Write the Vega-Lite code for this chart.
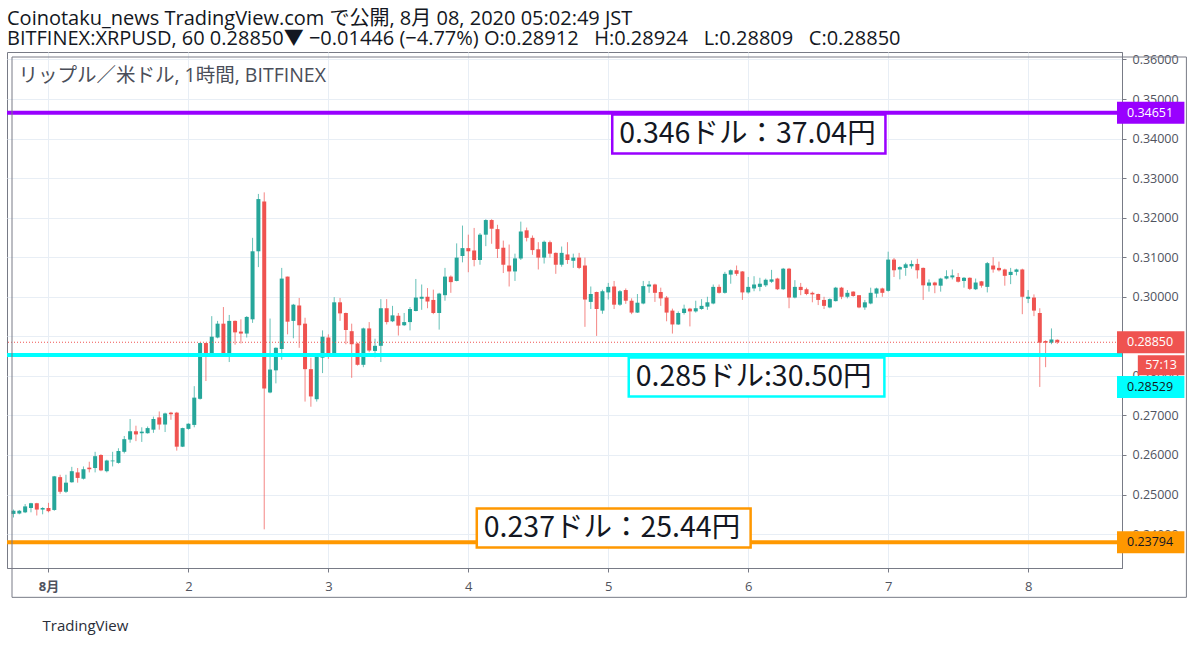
{
  "$schema": "https://vega.github.io/schema/vega-lite/v6.json",
  "width": 1115,
  "height": 516,
  "autosize": {"type": "none"},
  "padding": {"left": 7, "top": 52, "right": 78, "bottom": 79},
  "background": "white",
  "config": {
    "view": {"stroke": "#787b86", "strokeWidth": 1},
    "font": "Open Sans"
  },
  "title": {
    "text": "Coinotaku_news TradingView.com で公開, 8月 08, 2020 05:02:49 JST",
    "subtitle": "BITFINEX:XRPUSD, 60 0.28850▼ −0.01446 (−4.77%) O:0.28912\u00a0\u00a0 H:0.28924\u00a0\u00a0 L:0.28809\u00a0\u00a0 C:0.28850",
    "anchor": "start",
    "frame": "group",
    "font": "Open Sans, Noto Sans CJK JP",
    "subtitleFont": "Open Sans, Noto Sans CJK JP",
    "fontSize": 20,
    "subtitleFontSize": 20,
    "fontWeight": "normal",
    "color": "#131722",
    "subtitleColor": "#131722",
    "offset": 3,
    "subtitlePadding": 0
  },
  "datasets": {
    "candles": [
      {"t": -6, "o": 0.2451, "h": 0.2462, "l": 0.2442, "c": 0.2459},
      {"t": -5, "o": 0.2452, "h": 0.2461, "l": 0.2450, "c": 0.2459},
      {"t": -4, "o": 0.2455, "h": 0.2476, "l": 0.2453, "c": 0.2470},
      {"t": -3, "o": 0.2466, "h": 0.2479, "l": 0.2455, "c": 0.2478},
      {"t": -2, "o": 0.2478, "h": 0.2479, "l": 0.2447, "c": 0.2462},
      {"t": -1, "o": 0.2462, "h": 0.2468, "l": 0.2450, "c": 0.2466},
      {"t": 0, "o": 0.2466, "h": 0.2479, "l": 0.2455, "c": 0.2458},
      {"t": 1, "o": 0.2461, "h": 0.2547, "l": 0.2459, "c": 0.2546},
      {"t": 2, "o": 0.2544, "h": 0.2550, "l": 0.2502, "c": 0.2507},
      {"t": 3, "o": 0.2507, "h": 0.2550, "l": 0.2504, "c": 0.2530},
      {"t": 4, "o": 0.2531, "h": 0.2570, "l": 0.2530, "c": 0.2559},
      {"t": 5, "o": 0.2556, "h": 0.2567, "l": 0.2530, "c": 0.2542},
      {"t": 6, "o": 0.2540, "h": 0.2571, "l": 0.2538, "c": 0.2564},
      {"t": 7, "o": 0.2568, "h": 0.2583, "l": 0.2556, "c": 0.2564},
      {"t": 8, "o": 0.2567, "h": 0.2608, "l": 0.2556, "c": 0.2597},
      {"t": 9, "o": 0.2600, "h": 0.2602, "l": 0.2559, "c": 0.2561},
      {"t": 10, "o": 0.2559, "h": 0.2588, "l": 0.2556, "c": 0.2586},
      {"t": 11, "o": 0.2584, "h": 0.2608, "l": 0.2571, "c": 0.2586},
      {"t": 12, "o": 0.2580, "h": 0.2617, "l": 0.2578, "c": 0.2610},
      {"t": 13, "o": 0.2608, "h": 0.2648, "l": 0.2604, "c": 0.2640},
      {"t": 14, "o": 0.2639, "h": 0.2691, "l": 0.2631, "c": 0.2660},
      {"t": 15, "o": 0.2660, "h": 0.2674, "l": 0.2635, "c": 0.2652},
      {"t": 16, "o": 0.2655, "h": 0.2670, "l": 0.2633, "c": 0.2659},
      {"t": 17, "o": 0.2655, "h": 0.2672, "l": 0.2654, "c": 0.2668},
      {"t": 18, "o": 0.2664, "h": 0.2697, "l": 0.2656, "c": 0.2691},
      {"t": 19, "o": 0.2695, "h": 0.2710, "l": 0.2664, "c": 0.2677},
      {"t": 20, "o": 0.2677, "h": 0.2707, "l": 0.2658, "c": 0.2705},
      {"t": 21, "o": 0.2707, "h": 0.2709, "l": 0.2689, "c": 0.2703},
      {"t": 22, "o": 0.2707, "h": 0.2709, "l": 0.2611, "c": 0.2621},
      {"t": 23, "o": 0.2621, "h": 0.2669, "l": 0.2620, "c": 0.2668},
      {"t": 24, "o": 0.2666, "h": 0.2680, "l": 0.2664, "c": 0.2679},
      {"t": 25, "o": 0.2676, "h": 0.2774, "l": 0.2670, "c": 0.2745},
      {"t": 26, "o": 0.2742, "h": 0.2884, "l": 0.2740, "c": 0.2883},
      {"t": 27, "o": 0.2883, "h": 0.2884, "l": 0.2787, "c": 0.2857},
      {"t": 28, "o": 0.2857, "h": 0.2951, "l": 0.2856, "c": 0.2899},
      {"t": 29, "o": 0.2897, "h": 0.2939, "l": 0.2895, "c": 0.2932},
      {"t": 30, "o": 0.2932, "h": 0.2974, "l": 0.2849, "c": 0.2857},
      {"t": 31, "o": 0.2857, "h": 0.2954, "l": 0.2835, "c": 0.2939},
      {"t": 32, "o": 0.2939, "h": 0.2940, "l": 0.2879, "c": 0.2910},
      {"t": 33, "o": 0.2912, "h": 0.2943, "l": 0.2882, "c": 0.2907},
      {"t": 34, "o": 0.2907, "h": 0.2951, "l": 0.2897, "c": 0.2949},
      {"t": 35, "o": 0.2943, "h": 0.3149, "l": 0.2934, "c": 0.3115},
      {"t": 36, "o": 0.3115, "h": 0.3260, "l": 0.3075, "c": 0.3247},
      {"t": 37, "o": 0.3241, "h": 0.3264, "l": 0.2412, "c": 0.2768},
      {"t": 38, "o": 0.2758, "h": 0.2945, "l": 0.2756, "c": 0.2816},
      {"t": 39, "o": 0.2814, "h": 0.2872, "l": 0.2781, "c": 0.2871},
      {"t": 40, "o": 0.2868, "h": 0.3073, "l": 0.2841, "c": 0.3046},
      {"t": 41, "o": 0.3051, "h": 0.3051, "l": 0.2905, "c": 0.2937},
      {"t": 42, "o": 0.2939, "h": 0.2982, "l": 0.2895, "c": 0.2980},
      {"t": 43, "o": 0.2978, "h": 0.2997, "l": 0.2871, "c": 0.2928},
      {"t": 44, "o": 0.2932, "h": 0.2947, "l": 0.2735, "c": 0.2817},
      {"t": 45, "o": 0.2817, "h": 0.2846, "l": 0.2722, "c": 0.2748},
      {"t": 46, "o": 0.2741, "h": 0.2854, "l": 0.2735, "c": 0.2849},
      {"t": 47, "o": 0.2846, "h": 0.2915, "l": 0.2807, "c": 0.2899},
      {"t": 48, "o": 0.2897, "h": 0.2905, "l": 0.2843, "c": 0.2852},
      {"t": 49, "o": 0.2851, "h": 0.2999, "l": 0.2849, "c": 0.2986},
      {"t": 50, "o": 0.2986, "h": 0.2997, "l": 0.2939, "c": 0.2958},
      {"t": 51, "o": 0.2959, "h": 0.2960, "l": 0.2880, "c": 0.2916},
      {"t": 52, "o": 0.2913, "h": 0.2932, "l": 0.2795, "c": 0.2880},
      {"t": 53, "o": 0.2882, "h": 0.2884, "l": 0.2826, "c": 0.2828},
      {"t": 54, "o": 0.2828, "h": 0.2922, "l": 0.2822, "c": 0.2920},
      {"t": 55, "o": 0.2920, "h": 0.2936, "l": 0.2860, "c": 0.2864},
      {"t": 56, "o": 0.2863, "h": 0.2894, "l": 0.2847, "c": 0.2876},
      {"t": 57, "o": 0.2876, "h": 0.2994, "l": 0.2835, "c": 0.2971},
      {"t": 58, "o": 0.2971, "h": 0.2994, "l": 0.2930, "c": 0.2936},
      {"t": 59, "o": 0.2938, "h": 0.2977, "l": 0.2936, "c": 0.2953},
      {"t": 60, "o": 0.2952, "h": 0.2959, "l": 0.2902, "c": 0.2927},
      {"t": 61, "o": 0.2928, "h": 0.2959, "l": 0.2926, "c": 0.2936},
      {"t": 62, "o": 0.2936, "h": 0.2974, "l": 0.2915, "c": 0.2969},
      {"t": 63, "o": 0.2964, "h": 0.3045, "l": 0.2963, "c": 0.2998},
      {"t": 64, "o": 0.2995, "h": 0.3031, "l": 0.2967, "c": 0.3000},
      {"t": 65, "o": 0.3000, "h": 0.3022, "l": 0.2971, "c": 0.2988},
      {"t": 66, "o": 0.2992, "h": 0.3018, "l": 0.2956, "c": 0.2959},
      {"t": 67, "o": 0.2959, "h": 0.3010, "l": 0.2917, "c": 0.3008},
      {"t": 68, "o": 0.3004, "h": 0.3073, "l": 0.2990, "c": 0.3051},
      {"t": 69, "o": 0.3051, "h": 0.3054, "l": 0.3010, "c": 0.3037},
      {"t": 70, "o": 0.3040, "h": 0.3135, "l": 0.3039, "c": 0.3099},
      {"t": 71, "o": 0.3103, "h": 0.3180, "l": 0.3087, "c": 0.3123},
      {"t": 72, "o": 0.3123, "h": 0.3157, "l": 0.3062, "c": 0.3115},
      {"t": 73, "o": 0.3117, "h": 0.3174, "l": 0.3077, "c": 0.3093},
      {"t": 74, "o": 0.3093, "h": 0.3161, "l": 0.3081, "c": 0.3157},
      {"t": 75, "o": 0.3157, "h": 0.3196, "l": 0.3128, "c": 0.3194},
      {"t": 76, "o": 0.3194, "h": 0.3196, "l": 0.3134, "c": 0.3172},
      {"t": 77, "o": 0.3171, "h": 0.3182, "l": 0.3098, "c": 0.3121},
      {"t": 78, "o": 0.3124, "h": 0.3142, "l": 0.3060, "c": 0.3081},
      {"t": 79, "o": 0.3079, "h": 0.3132, "l": 0.3026, "c": 0.3064},
      {"t": 80, "o": 0.3064, "h": 0.3109, "l": 0.3040, "c": 0.3097},
      {"t": 81, "o": 0.3097, "h": 0.3190, "l": 0.3093, "c": 0.3165},
      {"t": 82, "o": 0.3168, "h": 0.3175, "l": 0.3140, "c": 0.3149},
      {"t": 83, "o": 0.3149, "h": 0.3155, "l": 0.3106, "c": 0.3118},
      {"t": 84, "o": 0.3120, "h": 0.3138, "l": 0.3069, "c": 0.3099},
      {"t": 85, "o": 0.3099, "h": 0.3142, "l": 0.3084, "c": 0.3139},
      {"t": 86, "o": 0.3138, "h": 0.3142, "l": 0.3099, "c": 0.3109},
      {"t": 87, "o": 0.3111, "h": 0.3112, "l": 0.3058, "c": 0.3081},
      {"t": 88, "o": 0.3081, "h": 0.3127, "l": 0.3076, "c": 0.3111},
      {"t": 89, "o": 0.3107, "h": 0.3138, "l": 0.3083, "c": 0.3093},
      {"t": 90, "o": 0.3091, "h": 0.3109, "l": 0.3073, "c": 0.3099},
      {"t": 91, "o": 0.3099, "h": 0.3111, "l": 0.3070, "c": 0.3073},
      {"t": 92, "o": 0.3079, "h": 0.3099, "l": 0.2924, "c": 0.2993},
      {"t": 93, "o": 0.2987, "h": 0.3026, "l": 0.2969, "c": 0.3007},
      {"t": 94, "o": 0.3012, "h": 0.3013, "l": 0.2901, "c": 0.2969},
      {"t": 95, "o": 0.2965, "h": 0.3018, "l": 0.2957, "c": 0.3014},
      {"t": 96, "o": 0.3011, "h": 0.3035, "l": 0.2993, "c": 0.3025},
      {"t": 97, "o": 0.3026, "h": 0.3040, "l": 0.2969, "c": 0.2980},
      {"t": 98, "o": 0.2980, "h": 0.3017, "l": 0.2977, "c": 0.3014},
      {"t": 99, "o": 0.3017, "h": 0.3021, "l": 0.2982, "c": 0.2990},
      {"t": 100, "o": 0.2990, "h": 0.2996, "l": 0.2956, "c": 0.2960},
      {"t": 101, "o": 0.2960, "h": 0.3007, "l": 0.2959, "c": 0.2985},
      {"t": 102, "o": 0.2983, "h": 0.3040, "l": 0.2981, "c": 0.3027},
      {"t": 103, "o": 0.3026, "h": 0.3040, "l": 0.3010, "c": 0.3031},
      {"t": 104, "o": 0.3031, "h": 0.3033, "l": 0.2987, "c": 0.3010},
      {"t": 105, "o": 0.3012, "h": 0.3023, "l": 0.2977, "c": 0.2996},
      {"t": 106, "o": 0.2998, "h": 0.3002, "l": 0.2938, "c": 0.2960},
      {"t": 107, "o": 0.2965, "h": 0.2970, "l": 0.2907, "c": 0.2930},
      {"t": 108, "o": 0.2930, "h": 0.2963, "l": 0.2929, "c": 0.2959},
      {"t": 109, "o": 0.2959, "h": 0.2980, "l": 0.2955, "c": 0.2970},
      {"t": 110, "o": 0.2970, "h": 0.2972, "l": 0.2925, "c": 0.2963},
      {"t": 111, "o": 0.2963, "h": 0.2990, "l": 0.2960, "c": 0.2971},
      {"t": 112, "o": 0.2969, "h": 0.2994, "l": 0.2967, "c": 0.2977},
      {"t": 113, "o": 0.2975, "h": 0.3000, "l": 0.2967, "c": 0.2986},
      {"t": 114, "o": 0.2983, "h": 0.3031, "l": 0.2981, "c": 0.3025},
      {"t": 115, "o": 0.3025, "h": 0.3031, "l": 0.3008, "c": 0.3010},
      {"t": 116, "o": 0.3010, "h": 0.3063, "l": 0.3008, "c": 0.3058},
      {"t": 117, "o": 0.3056, "h": 0.3069, "l": 0.3033, "c": 0.3067},
      {"t": 118, "o": 0.3067, "h": 0.3079, "l": 0.3053, "c": 0.3058},
      {"t": 119, "o": 0.3064, "h": 0.3065, "l": 0.2992, "c": 0.3011},
      {"t": 120, "o": 0.3011, "h": 0.3050, "l": 0.3008, "c": 0.3025},
      {"t": 121, "o": 0.3021, "h": 0.3052, "l": 0.3014, "c": 0.3031},
      {"t": 122, "o": 0.3025, "h": 0.3048, "l": 0.3014, "c": 0.3033},
      {"t": 123, "o": 0.3029, "h": 0.3046, "l": 0.3025, "c": 0.3043},
      {"t": 124, "o": 0.3038, "h": 0.3068, "l": 0.3035, "c": 0.3044},
      {"t": 125, "o": 0.3046, "h": 0.3048, "l": 0.3017, "c": 0.3019},
      {"t": 126, "o": 0.3019, "h": 0.3073, "l": 0.3017, "c": 0.3071},
      {"t": 127, "o": 0.3071, "h": 0.3073, "l": 0.2971, "c": 0.2998},
      {"t": 128, "o": 0.2998, "h": 0.3042, "l": 0.2996, "c": 0.3025},
      {"t": 129, "o": 0.3025, "h": 0.3035, "l": 0.3004, "c": 0.3017},
      {"t": 130, "o": 0.3019, "h": 0.3023, "l": 0.3004, "c": 0.3007},
      {"t": 131, "o": 0.3010, "h": 0.3013, "l": 0.2986, "c": 0.3006},
      {"t": 132, "o": 0.3007, "h": 0.3008, "l": 0.2979, "c": 0.2992},
      {"t": 133, "o": 0.2992, "h": 0.3000, "l": 0.2969, "c": 0.2977},
      {"t": 134, "o": 0.2973, "h": 0.2996, "l": 0.2971, "c": 0.2994},
      {"t": 135, "o": 0.2989, "h": 0.3025, "l": 0.2988, "c": 0.3023},
      {"t": 136, "o": 0.3023, "h": 0.3025, "l": 0.2994, "c": 0.3000},
      {"t": 137, "o": 0.3000, "h": 0.3017, "l": 0.2996, "c": 0.3010},
      {"t": 138, "o": 0.3013, "h": 0.3014, "l": 0.3000, "c": 0.3002},
      {"t": 139, "o": 0.3004, "h": 0.3004, "l": 0.2971, "c": 0.2973},
      {"t": 140, "o": 0.2973, "h": 0.2992, "l": 0.2967, "c": 0.2986},
      {"t": 141, "o": 0.2983, "h": 0.3023, "l": 0.2981, "c": 0.3010},
      {"t": 142, "o": 0.3008, "h": 0.3023, "l": 0.2998, "c": 0.3021},
      {"t": 143, "o": 0.3021, "h": 0.3023, "l": 0.3000, "c": 0.3010},
      {"t": 144, "o": 0.3015, "h": 0.3114, "l": 0.3013, "c": 0.3094},
      {"t": 145, "o": 0.3094, "h": 0.3098, "l": 0.3050, "c": 0.3067},
      {"t": 146, "o": 0.3069, "h": 0.3077, "l": 0.3044, "c": 0.3075},
      {"t": 147, "o": 0.3073, "h": 0.3086, "l": 0.3053, "c": 0.3082},
      {"t": 148, "o": 0.3077, "h": 0.3092, "l": 0.3071, "c": 0.3083},
      {"t": 149, "o": 0.3083, "h": 0.3096, "l": 0.3046, "c": 0.3067},
      {"t": 150, "o": 0.3073, "h": 0.3074, "l": 0.2992, "c": 0.3029},
      {"t": 151, "o": 0.3028, "h": 0.3044, "l": 0.3013, "c": 0.3036},
      {"t": 152, "o": 0.3036, "h": 0.3038, "l": 0.3009, "c": 0.3029},
      {"t": 153, "o": 0.3028, "h": 0.3048, "l": 0.3013, "c": 0.3046},
      {"t": 154, "o": 0.3046, "h": 0.3067, "l": 0.3044, "c": 0.3052},
      {"t": 155, "o": 0.3049, "h": 0.3069, "l": 0.3044, "c": 0.3054},
      {"t": 156, "o": 0.3050, "h": 0.3060, "l": 0.3036, "c": 0.3038},
      {"t": 157, "o": 0.3040, "h": 0.3050, "l": 0.3023, "c": 0.3048},
      {"t": 158, "o": 0.3048, "h": 0.3049, "l": 0.3017, "c": 0.3020},
      {"t": 159, "o": 0.3019, "h": 0.3046, "l": 0.3017, "c": 0.3036},
      {"t": 160, "o": 0.3039, "h": 0.3040, "l": 0.3023, "c": 0.3028},
      {"t": 161, "o": 0.3025, "h": 0.3088, "l": 0.3011, "c": 0.3085},
      {"t": 162, "o": 0.3079, "h": 0.3100, "l": 0.3061, "c": 0.3069},
      {"t": 163, "o": 0.3073, "h": 0.3089, "l": 0.3064, "c": 0.3067},
      {"t": 164, "o": 0.3069, "h": 0.3071, "l": 0.3028, "c": 0.3053},
      {"t": 165, "o": 0.3055, "h": 0.3073, "l": 0.3032, "c": 0.3063},
      {"t": 166, "o": 0.3063, "h": 0.3071, "l": 0.3054, "c": 0.3069},
      {"t": 167, "o": 0.3069, "h": 0.3071, "l": 0.2956, "c": 0.3000},
      {"t": 168, "o": 0.2995, "h": 0.3017, "l": 0.2984, "c": 0.3000},
      {"t": 169, "o": 0.2998, "h": 0.3006, "l": 0.2951, "c": 0.2965},
      {"t": 170, "o": 0.2959, "h": 0.2971, "l": 0.2772, "c": 0.2884},
      {"t": 171, "o": 0.2888, "h": 0.2890, "l": 0.2822, "c": 0.2884},
      {"t": 172, "o": 0.2884, "h": 0.2920, "l": 0.2880, "c": 0.2892},
      {"t": 173, "o": 0.28912, "h": 0.28924, "l": 0.28809, "c": 0.2885}
    ],
    "levels": [
      {"kind": "resistance", "price": 0.34651},
      {"kind": "last", "price": 0.2885, "timer": "57:13"},
      {"kind": "support", "price": 0.28529},
      {"kind": "floor", "price": 0.23794}
    ],
    "notes": [
      {"kind": "resistance", "label": "0.346ドル：37.04円", "t0": 96.68, "t1": 143.53, "p": 0.34115},
      {"kind": "support", "label": "0.285ドル:30.50円", "t0": 99.51, "t1": 143.35, "p": 0.27971},
      {"kind": "floor", "label": "0.237ドル：25.44円", "t0": 73.45, "t1": 120.41, "p": 0.24155}
    ]
  },
  "layer": [
    {
      "data": {"name": "candles"},
      "mark": {"type": "rule", "strokeWidth": 1, "opacity": 0.7},
      "encoding": {
        "x": {
          "field": "t",
          "type": "quantitative",
          "scale": {"domain": [-6.254, 183.24], "nice": false, "zero": false},
          "axis": {
            "orient": "bottom",
            "values": [0, 24, 48, 72, 96, 120, 144, 168],
            "labelExpr": "datum.value == 0 ? '8月' : '' + (datum.value / 24 + 1)",
            "labelFont": "Open Sans, Noto Sans CJK JP",
            "labelFontSize": 13,
            "labelColor": "#50535e",
            "labelFontWeight": {"condition": {"test": "datum.value == 0", "value": "bold"}, "value": "normal"},
            "labelFlush": false,
            "labelPadding": 8,
            "tickSize": 4,
            "tickColor": "#787b86",
            "domainColor": "#787b86",
            "grid": true,
            "gridColor": "#e8eef5",
            "title": "TradingView",
            "titleFont": "Open Sans",
            "titleFontSize": 15,
            "titleFontWeight": "normal",
            "titleColor": "#2a2e39",
            "titleAlign": "left",
            "titleBaseline": "middle",
            "titleX": 35,
            "titleY": 57
          }
        },
        "y": {
          "field": "l",
          "type": "quantitative",
          "scale": {"domain": [0.23269, 0.36062], "nice": false, "zero": false},
          "axis": {
            "orient": "right",
            "values": [0.24, 0.25, 0.26, 0.27, 0.28, 0.29, 0.30, 0.31, 0.32, 0.33, 0.34, 0.35, 0.36],
            "format": ".5f",
            "labelFont": "Open Sans",
            "labelFontSize": 12.5,
            "labelColor": "#50535e",
            "labelPadding": 6,
            "labelOverlap": false,
            "tickSize": 4,
            "tickColor": "#787b86",
            "domainColor": "#787b86",
            "grid": true,
            "gridColor": "#e8eef5",
            "title": "リップル／米ドル, 1時間, BITFINEX",
            "titleFont": "Open Sans, Noto Sans CJK JP",
            "titleFontSize": 19.5,
            "titleFontWeight": "normal",
            "titleColor": "#4a4e59",
            "titleAngle": 0,
            "titleAlign": "left",
            "titleBaseline": "middle",
            "titleX": -1104,
            "titleY": 23
          }
        },
        "y2": {"field": "h"},
        "color": {"condition": {"test": "datum.c >= datum.o", "value": "#26a69a"}, "value": "#ef5350"}
      }
    },
    {
      "data": {"name": "candles"},
      "mark": {"type": "bar", "size": 4, "orient": "vertical"},
      "encoding": {
        "x": {"field": "t", "type": "quantitative", "scale": {"domain": [-6.254, 183.24], "nice": false, "zero": false}},
        "y": {"field": "o", "type": "quantitative", "scale": {"domain": [0.23269, 0.36062], "nice": false, "zero": false}},
        "y2": {"field": "c"},
        "color": {"condition": {"test": "datum.c >= datum.o", "value": "#26a69a"}, "value": "#ef5350"}
      }
    },
    {
      "data": {"name": "levels"},
      "transform": [{"filter": "datum.kind != 'last'"}],
      "mark": {"type": "rule", "strokeWidth": 4},
      "encoding": {
        "y": {"field": "price", "type": "quantitative", "scale": {"domain": [0.23269, 0.36062], "nice": false, "zero": false}},
        "stroke": {
          "field": "kind",
          "type": "nominal",
          "scale": {"domain": ["resistance", "support", "floor", "last"], "range": ["#9900ff", "#00ffff", "#ff9800", "#ef5350"]},
          "legend": null
        }
      }
    },
    {
      "data": {"name": "levels"},
      "transform": [{"filter": "datum.kind == 'last'"}],
      "mark": {"type": "rule", "strokeWidth": 1, "strokeDash": [1, 2], "color": "#ef5350"},
      "encoding": {
        "y": {"field": "price", "type": "quantitative", "scale": {"domain": [0.23269, 0.36062], "nice": false, "zero": false}}
      }
    },
    {
      "data": {"name": "notes"},
      "mark": {"type": "bar", "orient": "horizontal", "size": 39, "fill": "white", "strokeWidth": 2.5},
      "encoding": {
        "x": {"field": "t0", "type": "quantitative", "scale": {"domain": [-6.254, 183.24], "nice": false, "zero": false}},
        "x2": {"field": "t1"},
        "y": {"field": "p", "type": "quantitative", "scale": {"domain": [0.23269, 0.36062], "nice": false, "zero": false}},
        "stroke": {"field": "kind", "type": "nominal", "legend": null}
      }
    },
    {
      "data": {"name": "notes"},
      "mark": {"type": "text", "align": "left", "baseline": "middle", "dx": 7, "font": "Noto Sans CJK JP", "fontSize": 28.5, "color": "#131722"},
      "encoding": {
        "x": {"field": "t0", "type": "quantitative", "scale": {"domain": [-6.254, 183.24], "nice": false, "zero": false}},
        "y": {"field": "p", "type": "quantitative", "scale": {"domain": [0.23269, 0.36062], "nice": false, "zero": false}},
        "text": {"field": "label"}
      }
    },
    {
      "data": {"name": "levels"},
      "transform": [{"filter": "datum.kind != 'support'"}],
      "mark": {"type": "bar", "orient": "horizontal", "size": 22, "clip": false},
      "encoding": {
        "x": {"datum": 183.24, "type": "quantitative", "scale": {"domain": [-6.254, 183.24], "nice": false, "zero": false}},
        "x2": {"datum": 194.8},
        "y": {"field": "price", "type": "quantitative", "scale": {"domain": [0.23269, 0.36062], "nice": false, "zero": false}},
        "fill": {
          "field": "kind",
          "type": "nominal",
          "scale": {"domain": ["resistance", "support", "floor", "last"], "range": ["#9900ff", "#00ffff", "#ff9800", "#ef5350"]},
          "legend": null
        }
      }
    },
    {
      "data": {"name": "levels"},
      "transform": [{"filter": "datum.kind != 'support'"}],
      "mark": {"type": "text", "align": "left", "baseline": "middle", "dx": 10, "font": "Open Sans", "fontSize": 12.5, "clip": false},
      "encoding": {
        "x": {"datum": 183.24, "type": "quantitative", "scale": {"domain": [-6.254, 183.24], "nice": false, "zero": false}},
        "y": {"field": "price", "type": "quantitative", "scale": {"domain": [0.23269, 0.36062], "nice": false, "zero": false}},
        "text": {"field": "price", "type": "quantitative", "format": ".5f"},
        "color": {
          "field": "kind",
          "type": "nominal",
          "scale": {"domain": ["resistance", "support", "floor", "last"], "range": ["#ffffff", "#131722", "#131722", "#ffffff"]},
          "legend": null
        }
      }
    },
    {
      "data": {"name": "levels"},
      "transform": [{"filter": "datum.kind == 'last'"}],
      "mark": {"type": "bar", "orient": "horizontal", "size": 20, "yOffset": 23, "color": "#ef5350", "clip": false},
      "encoding": {
        "x": {"datum": 186.81, "type": "quantitative", "scale": {"domain": [-6.254, 183.24], "nice": false, "zero": false}},
        "x2": {"datum": 194.8},
        "y": {"field": "price", "type": "quantitative", "scale": {"domain": [0.23269, 0.36062], "nice": false, "zero": false}}
      }
    },
    {
      "data": {"name": "levels"},
      "transform": [{"filter": "datum.kind == 'last'"}],
      "mark": {"type": "text", "align": "center", "baseline": "middle", "yOffset": 23, "font": "Open Sans", "fontSize": 12.5, "color": "#ffffff", "clip": false},
      "encoding": {
        "x": {"datum": 190.8, "type": "quantitative", "scale": {"domain": [-6.254, 183.24], "nice": false, "zero": false}},
        "y": {"field": "price", "type": "quantitative", "scale": {"domain": [0.23269, 0.36062], "nice": false, "zero": false}},
        "text": {"field": "timer"}
      }
    },
    {
      "data": {"name": "levels"},
      "transform": [{"filter": "datum.kind == 'support'"}],
      "mark": {"type": "bar", "orient": "horizontal", "size": 22, "yOffset": 32, "color": "#00ffff", "clip": false},
      "encoding": {
        "x": {"datum": 183.24, "type": "quantitative", "scale": {"domain": [-6.254, 183.24], "nice": false, "zero": false}},
        "x2": {"datum": 194.8},
        "y": {"field": "price", "type": "quantitative", "scale": {"domain": [0.23269, 0.36062], "nice": false, "zero": false}}
      }
    },
    {
      "data": {"name": "levels"},
      "transform": [{"filter": "datum.kind == 'support'"}],
      "mark": {"type": "text", "align": "left", "baseline": "middle", "dx": 10, "yOffset": 32, "font": "Open Sans", "fontSize": 12.5, "color": "#131722", "clip": false},
      "encoding": {
        "x": {"datum": 183.24, "type": "quantitative", "scale": {"domain": [-6.254, 183.24], "nice": false, "zero": false}},
        "y": {"field": "price", "type": "quantitative", "scale": {"domain": [0.23269, 0.36062], "nice": false, "zero": false}},
        "text": {"field": "price", "type": "quantitative", "format": ".5f"}
      }
    },
    {
      "data": {"values": [{}]},
      "mark": {"type": "rect", "fill": null, "fillOpacity": 0, "stroke": "#787b86", "strokeWidth": 1, "clip": false},
      "encoding": {
        "x": {"datum": -6.254, "type": "quantitative", "scale": {"domain": [-6.254, 183.24], "nice": false, "zero": false}},
        "x2": {"datum": 195.14},
        "y": {"datum": 0.36062, "type": "quantitative", "scale": {"domain": [0.23269, 0.36062], "nice": false, "zero": false}},
        "y2": {"datum": 0.22401}
      }
    }
  ]
}
